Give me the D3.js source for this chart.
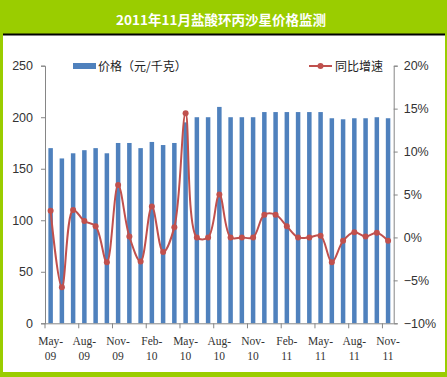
<!DOCTYPE html>
<html><head><meta charset="utf-8">
<script src="https://cdn.jsdelivr.net/npm/d3@7"></script>
<style>body{margin:0;padding:0;background:#9acd00;}svg{display:block;}</style>
</head><body>
<svg id="c" width="447" height="377"></svg>
<script>
const months = ["May-09","Jun-09","Jul-09","Aug-09","Sep-09","Oct-09","Nov-09","Dec-09","Jan-10","Feb-10","Mar-10","Apr-10","May-10","Jun-10","Jul-10","Aug-10","Sep-10","Oct-10","Nov-10","Dec-10","Jan-11","Feb-11","Mar-11","Apr-11","May-11","Jun-11","Jul-11","Aug-11","Sep-11","Oct-11","Nov-11"];
const prices = [170,160,165,168,170,165,175,175,170,176,173,175,195,200,200,210,200,200,200,205,205,205,205,205,205,199,198,199,199,200,199];
const growth = [3.1,-5.8,3.2,1.9,1.3,-2.9,6.1,0.1,-2.8,3.6,-1.7,1.2,14.45,0,0,5.0,0,0,0,2.65,2.65,1.3,0,0,0.2,-2.9,-0.4,0.6,0.1,0.55,-0.4];
const leftTicks = [0,50,100,150,200,250];
const rightTicks = [-10,-5,0,5,10,15,20];
const title = "2011年11月盐酸环丙沙星价格监测";
const barLegend = "价格（元/千克）";
const lineLegend = "同比增速";

const svg = d3.select("#c");
const W = 447, H = 377;
svg.append("rect").attr("x",0).attr("y",0).attr("width",W).attr("height",H).attr("fill","#9acd00");
svg.append("rect").attr("x",3).attr("y",34).attr("width",442).attr("height",338).attr("fill","#fff");
svg.append("line").attr("x1",3).attr("x2",445).attr("y1",34.5).attr("y2",34.5).attr("stroke","#000").attr("stroke-width",2);
svg.append("text").attr("x",221).attr("y",25).attr("text-anchor","middle")
  .attr("font-family","'Noto Sans CJK SC', sans-serif").attr("font-weight","bold").attr("font-size",13.5)
  .attr("fill","#fff").text(title);

const L = 45, R = 393.7, T = 65.7, B = 323.3;
const x = d3.scaleBand().domain(months).range([L,R]).paddingInner(0.6).paddingOuter(0.3);
const yL = d3.scaleLinear().domain([0,250]).range([B,T]);
const yR = d3.scaleLinear().domain([-10,20]).range([B,T]);
const axisCol = "#868686";

// bars
svg.append("g").selectAll("rect").data(prices).join("rect")
  .attr("x",(d,i)=>x(months[i])).attr("width",x.bandwidth())
  .attr("y",d=>yL(d)).attr("height",d=>yL(0)-yL(d)).attr("fill","#4f81bd");

// left axis
const gl = svg.append("g").attr("transform",`translate(${L},0)`)
  .call(d3.axisLeft(yL).tickValues(leftTicks).tickSize(4).tickPadding(8));
gl.selectAll("path,line").attr("stroke",axisCol);
gl.selectAll("text").attr("font-family","'Liberation Sans', Arial, sans-serif").attr("font-size",12.5).attr("fill","#333");

// right axis
const gr = svg.append("g").attr("transform",`translate(${R},0)`)
  .call(d3.axisRight(yR).tickValues(rightTicks).tickSize(4).tickPadding(6).tickFormat(d=>(d<0?"\u2212":"")+Math.abs(d)+"%"));
gr.selectAll("path,line").attr("stroke",axisCol);
gr.selectAll("text").attr("font-family","'Liberation Sans', Arial, sans-serif").attr("font-size",12.5).attr("fill","#333");

// x axis
const gx = svg.append("g");
gx.append("line").attr("x1",L).attr("x2",R).attr("y1",B+0.5).attr("y2",B+0.5).attr("stroke",axisCol);
const tickIdx = d3.range(0, months.length+1, 3);
gx.selectAll("line.t").data(tickIdx).join("line").attr("class","t")
  .attr("x1",i=>L+i*(R-L)/months.length).attr("x2",i=>L+i*(R-L)/months.length)
  .attr("y1",B).attr("y2",B+5).attr("stroke",axisCol);
const labIdx = d3.range(0, months.length, 3);
const lab = gx.selectAll("text").data(labIdx).join("text")
  .attr("text-anchor","middle").attr("font-family","'Liberation Serif', 'DejaVu Serif', serif")
  .attr("font-size",11.5).attr("fill","#333");
lab.append("tspan").attr("x",i=>x(months[i])+x.bandwidth()/2).attr("y",345).text(i=>months[i].split("-")[0]+"-");
lab.append("tspan").attr("x",i=>x(months[i])+x.bandwidth()/2).attr("y",360).text(i=>months[i].split("-")[1]);

// line
const lineCol = "#c0504d";
const line = d3.line().x((d,i)=>x(months[i])+x.bandwidth()/2).y(d=>yR(d)).curve(d3.curveCatmullRom.alpha(0.5));
svg.append("path").datum(growth).attr("d",line).attr("fill","none").attr("stroke",lineCol).attr("stroke-width",2);
svg.append("g").selectAll("circle").data(growth).join("circle")
  .attr("cx",(d,i)=>x(months[i])+x.bandwidth()/2).attr("cy",d=>yR(d)).attr("r",3).attr("fill",lineCol);

// legends
svg.append("rect").attr("x",73).attr("y",63).attr("width",23).attr("height",6).attr("fill","#4f81bd");
svg.append("text").attr("x",98).attr("y",70.5).attr("font-family","'Noto Sans CJK SC', sans-serif").attr("font-size",12).attr("fill","#222").text(barLegend);
svg.append("line").attr("x1",309).attr("x2",332).attr("y1",66).attr("y2",66).attr("stroke",lineCol).attr("stroke-width",2);
svg.append("circle").attr("cx",320.5).attr("cy",66).attr("r",3).attr("fill",lineCol);
svg.append("text").attr("x",335).attr("y",70.5).attr("font-family","'Noto Sans CJK SC', sans-serif").attr("font-size",12).attr("fill","#222").text(lineLegend);
</script>
</body></html>
